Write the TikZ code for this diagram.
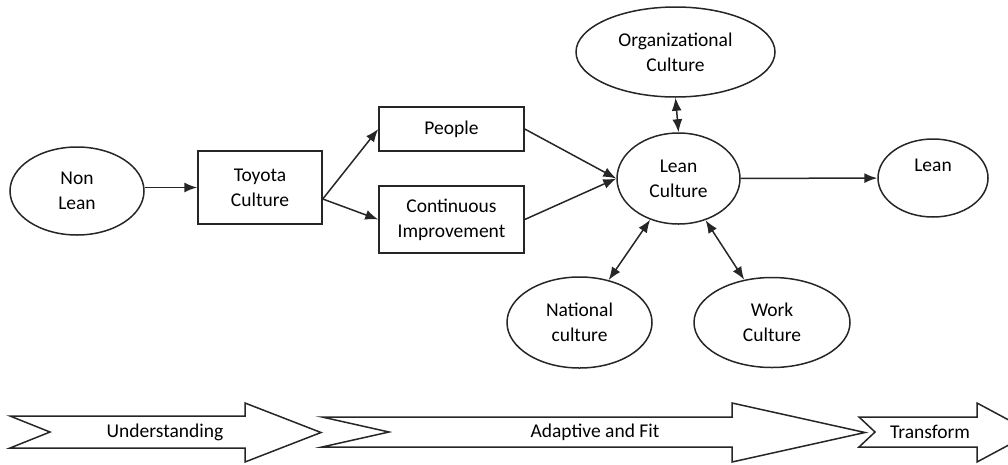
\documentclass[tikz,border=0pt]{standalone}
\usepackage{fontspec}
\setmainfont{Carlito}
\usetikzlibrary{shapes.geometric,arrows.meta}
\begin{document}
\begin{tikzpicture}[x=1pt,y=-1pt,line width=1.5pt,draw=black!85,
    >={Latex[length=13pt,width=10pt]},
    oval/.style={ellipse,draw,inner sep=0pt,align=center,font=\fontsize{19.5}{25}\selectfont},
    box/.style={rectangle,draw,inner sep=0pt,align=center,font=\fontsize{19.5}{25}\selectfont},
    band/.style={draw,fill=white,line width=1.5pt},
    bandtext/.style={font=\fontsize{19.5}{25}\selectfont}]
      \useasboundingbox (0,0) rectangle (1008,464);
      \clip (0,0) rectangle (1008,464);
      % nodes
      \node [oval,minimum width=134pt,minimum height=88pt] (nonlean) at (77,191) {Non\\Lean};
      \node [box,minimum width=124pt,minimum height=73pt] (toyota) at (260,187.5) {Toyota\\Culture};
      \node [box,minimum width=145pt,minimum height=44pt] (people) at (451.5,129) {People};
      \node [box,minimum width=145pt,minimum height=67pt] (cont) at (451.5,219.5) {Continuous\\Improvement};
      \node [oval,minimum width=199pt,minimum height=90pt] (org) at (675.5,52) {Organizational\\Culture};
      \node [oval,minimum width=123pt,minimum height=91pt] (lc) at (678.5,178.5) {Lean\\Culture};
      \node [oval,minimum width=110pt,minimum height=78pt] (lean) at (933,178) {Lean\\\mbox{}};
      \node [oval,minimum width=145pt,minimum height=91pt] (nat) at (579.5,322.5) {National\\culture};
      \node [oval,minimum width=156pt,minimum height=90pt] (work) at (772,322.5) {Work\\Culture};
      \coordinate (split) at ([yshift=-11.5pt]toyota.east);
      % connectors
      \draw [->] (nonlean.east |- toyota.west)--(toyota.west);
      \draw [->] (split)--(people.west);
      \draw [->] (split)--(cont.west);
      \draw [->] (people.east)--(lc.west);
      \draw [->] (cont.east)--(lc.west);
      \draw [<->] (org.south)--(lc.north);
      \draw [<->] (nat)--(lc);
      \draw [<->] (work)--(lc);
      \draw [->] (lc)--(lean);
      % stage arrows
      \draw [band] (10,416)--(245,416)--(245,403)--(321,432.5)--(245,462)--(245,448)--(10,448)--(50,432)--cycle;
      \draw [band] (322,417)--(732,417)--(732,403)--(865,432.5)--(732,462)--(732,447)--(322,447)--(389,432)--cycle;
      \draw [band] (859,417)--(977,417)--(977,403)--(1032,432.5)--(977,462)--(977,447)--(859,447)--(875,432)--cycle;
      \node [bandtext] (under) at (165,432) {Understanding};
      \node [bandtext] (adapt) at (595,432) {Adaptive and Fit};
      \node [bandtext] (trans) at (930,432) {Transform};
\end{tikzpicture}
\end{document}
